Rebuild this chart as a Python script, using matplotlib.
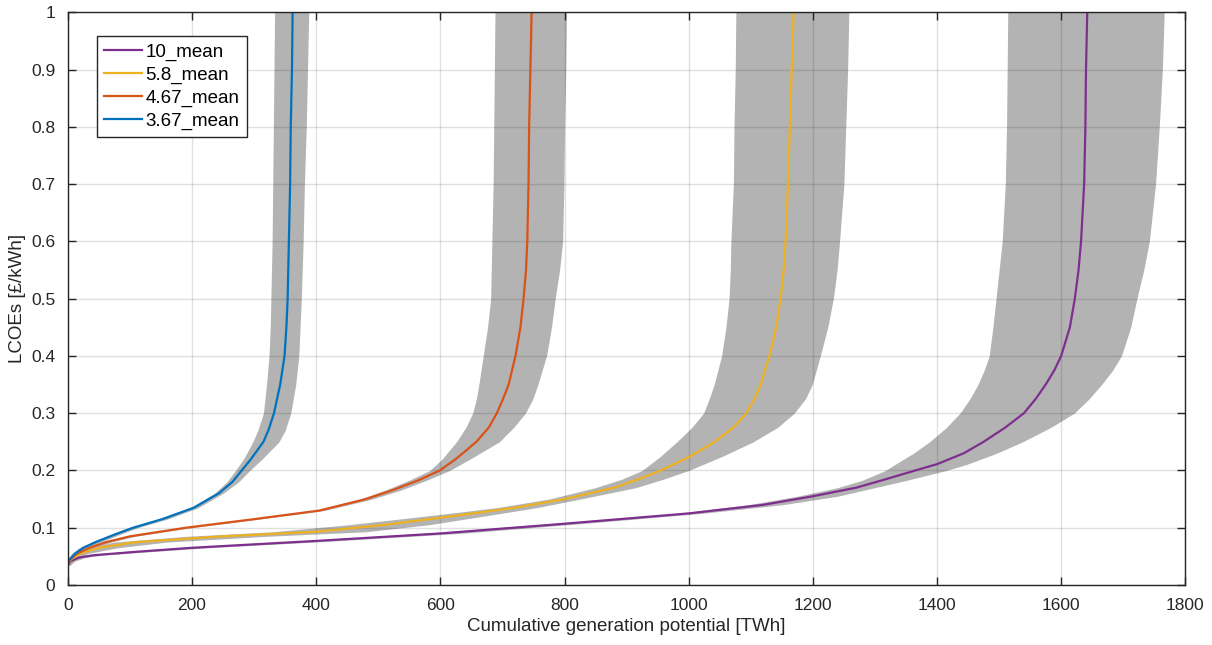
import matplotlib
matplotlib.use("Agg")
from matplotlib import pyplot as plt

plt.rcParams['font.family'] = ['Liberation Sans', 'DejaVu Sans']

# 3.67 case (blue)
y_367 = [0.035, 0.045, 0.055, 0.065, 0.075, 0.09, 0.1, 0.115, 0.135, 0.16, 0.18, 0.2, 0.22,
         0.25, 0.27, 0.3, 0.35, 0.4, 0.45, 0.5, 0.6, 0.7, 0.8, 0.9, 1.0]
mean_367 = [0, 3, 12, 25, 45, 80, 105, 152, 203, 243, 265, 280, 295, 315, 323, 332, 342, 349, 352,
            354, 356, 358, 359, 361, 362]
lo_367 = [0, 0, 6, 18, 38, 72, 98, 145, 197, 236, 256, 270, 283, 298, 306, 315, 320, 324, 326,
          327, 329, 330, 331, 332, 333]
hi_367 = [3, 10, 20, 33, 53, 88, 112, 160, 210, 250, 275, 293, 313, 340, 350, 359, 367, 372, 374,
          376, 379, 381, 384, 386, 388]

# 4.67 case (orange)
y_467 = [0.035, 0.045, 0.055, 0.065, 0.075, 0.085, 0.1, 0.115, 0.13, 0.15, 0.166, 0.183, 0.2,
         0.22, 0.25, 0.275, 0.3, 0.325, 0.35, 0.4, 0.45, 0.5, 0.55, 0.6, 0.7, 0.8, 0.9, 1.0]
mean_467 = [0, 4, 15, 35, 62, 100, 190, 300, 405, 480, 524, 565, 599, 625, 658, 678, 691, 701,
            710, 721, 729, 734, 738, 740, 742, 743, 745, 747]
lo_467 = [0, 0, 8, 27, 54, 92, 182, 292, 397, 470, 512, 550, 583, 603, 626, 641, 652, 658, 662,
          669, 676, 681, 682, 683, 685, 686, 687, 688]
hi_467 = [4, 12, 23, 43, 70, 108, 198, 308, 413, 490, 537, 578, 615, 648, 695, 718, 737, 749,
          757, 771, 779, 785, 792, 797, 799, 800, 802, 803]

# 5.8 case (yellow)
y_58 = [0.035, 0.045, 0.055, 0.065, 0.075, 0.085, 0.093, 0.105, 0.122, 0.135, 0.15, 0.17, 0.185,
        0.2, 0.225, 0.25, 0.275, 0.3, 0.325, 0.35, 0.4, 0.45, 0.5, 0.55, 0.6, 0.7, 0.8, 0.9, 1.0]
mean_58 = [0, 5, 20, 50, 110, 250, 400, 510, 632, 720, 800, 880, 920, 955, 1003, 1042, 1072,
           1093, 1106, 1116, 1130, 1141, 1148, 1153, 1156, 1160, 1163, 1166, 1169]
lo_58 = [0, 0, 10, 30, 75, 190, 330, 450, 590, 690, 775, 850, 893, 925, 955, 981, 1005, 1024,
         1033, 1041, 1053, 1060, 1065, 1067, 1068, 1072, 1073, 1075, 1076]
hi_58 = [3, 12, 32, 80, 160, 320, 480, 580, 680, 755, 825, 915, 960, 1000, 1055, 1104, 1143,
         1170, 1188, 1199, 1212, 1224, 1233, 1239, 1243, 1250, 1253, 1256, 1258]

# 10 case (purple)
y_10 = [0.035, 0.042, 0.048, 0.052, 0.058, 0.065, 0.077, 0.09, 0.107, 0.125, 0.14, 0.155, 0.17,
        0.183, 0.2, 0.211, 0.23, 0.25, 0.275, 0.3, 0.325, 0.35, 0.375, 0.4, 0.45, 0.5, 0.55,
        0.6, 0.7, 0.8, 0.9, 1.0]
mean_10 = [0, 5, 18, 41, 110, 200, 400, 600, 800, 1000, 1120, 1200, 1270, 1312, 1365, 1400,
           1443, 1475, 1510, 1540, 1559, 1575, 1589, 1600, 1614, 1622, 1628, 1632, 1637, 1639,
           1640, 1642]
lo_10 = [0, 0, 8, 28, 90, 175, 370, 570, 775, 980, 1095, 1175, 1240, 1280, 1317, 1333, 1362,
         1388, 1415, 1437, 1453, 1466, 1476, 1484, 1490, 1495, 1500, 1505, 1510, 1512, 1513, 1514]
hi_10 = [3, 12, 28, 55, 130, 225, 430, 630, 825, 1020, 1150, 1240, 1300, 1352, 1415, 1449, 1496,
         1538, 1583, 1621, 1645, 1665, 1683, 1697, 1712, 1722, 1733, 1742, 1752, 1758, 1763, 1766]

fig = plt.figure(figsize=(12.12, 6.45), dpi=100)
ax = fig.add_axes([0.056, 0.093, 0.922, 0.888])

band_color = '#b3b3b3'
for y, lo, hi in [(y_10, lo_10, hi_10), (y_58, lo_58, hi_58),
                  (y_467, lo_467, hi_467), (y_367, lo_367, hi_367)]:
    ax.fill_betweenx(y, lo, hi, color=band_color, lw=0, zorder=1)

ax.plot(mean_10, y_10, color='#7E2F8E', lw=1.6, label='10_mean', zorder=3)
ax.plot(mean_58, y_58, color='#EDB120', lw=1.6, label='5.8_mean', zorder=3)
ax.plot(mean_467, y_467, color='#D95319', lw=1.6, label='4.67_mean', zorder=3)
ax.plot(mean_367, y_367, color='#0072BD', lw=1.6, label='3.67_mean', zorder=3)

ax.set_xlim(0, 1800)
ax.set_ylim(0, 1)
ax.set_xticks(range(0, 1801, 200))
ax.set_yticks([i / 10 for i in range(11)])
ax.set_yticklabels(['0', '0.1', '0.2', '0.3', '0.4', '0.5', '0.6', '0.7', '0.8', '0.9', '1'])
ax.grid(True, color='black', alpha=0.12, lw=1)
ax.set_axisbelow(False)
ax.tick_params(direction='in', top=True, right=True, length=6, width=1,
               colors='#262626', labelsize=12.5)
ax.tick_params(axis='x', pad=9)
ax.tick_params(axis='y', pad=9)
for s in ax.spines.values():
    s.set_color('#262626')
    s.set_linewidth(1)
    s.set_zorder(5)

ax.set_xlabel('Cumulative generation potential [TWh]', fontsize=13.5, color='#262626', labelpad=4)
ax.set_ylabel('LCOEs [£/kWh]', fontsize=13.5, color='#262626', labelpad=4)

leg = ax.legend(loc='upper left', bbox_to_anchor=(0.026, 0.958), fontsize=13.5,
                frameon=True, fancybox=False, framealpha=1, edgecolor='#262626',
                handlelength=2.0, handletextpad=0.2, borderpad=0.4, labelspacing=0.3,
                borderaxespad=0)
leg.get_frame().set_linewidth(1)
leg.set_zorder(6)

fig.savefig('out.png', dpi=100)
